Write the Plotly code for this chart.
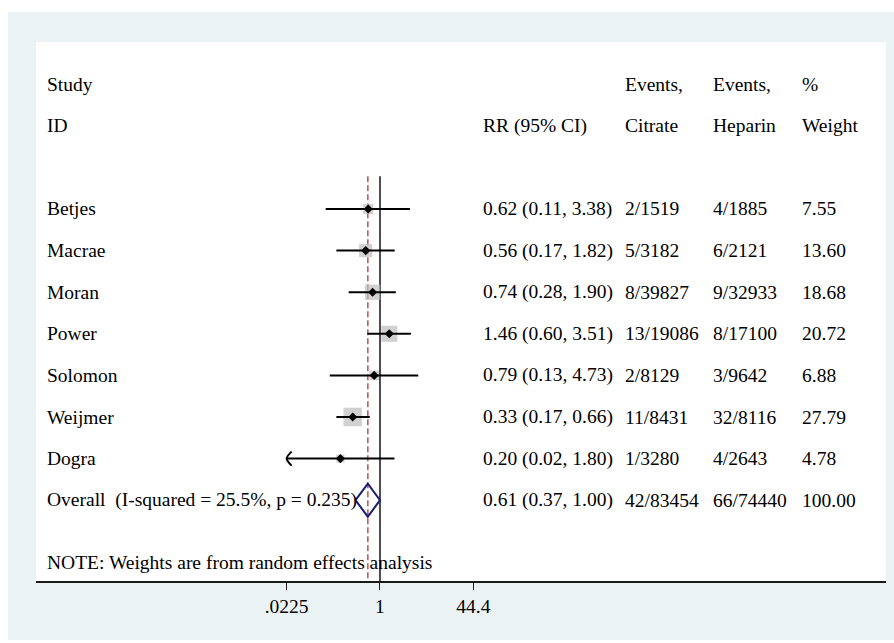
import math
import plotly.graph_objects as go

# ---------------- data ----------------
studies = ["Betjes", "Macrae", "Moran", "Power", "Solomon", "Weijmer", "Dogra"]
rr = [0.62, 0.56, 0.74, 1.46, 0.79, 0.33, 0.20]
ci_lo = [0.11, 0.17, 0.28, 0.60, 0.13, 0.17, 0.02]
ci_hi = [3.38, 1.82, 1.90, 3.51, 4.73, 0.66, 1.80]
events_citrate = ["2/1519", "5/3182", "8/39827", "13/19086", "2/8129", "11/8431", "1/3280"]
events_heparin = ["4/1885", "6/2121", "9/32933", "8/17100", "3/9642", "32/8116", "4/2643"]
weights = [7.55, 13.60, 18.68, 20.72, 6.88, 27.79, 4.78]

overall_rr = 0.61
overall_lo = 0.37
overall_hi = 1.00
overall_citrate = "42/83454"
overall_heparin = "66/74440"
overall_weight = 100.00
i_squared = 25.5
p_het = 0.235

tick_vals = [0.0225, 1, 44.4]
tick_text = [".0225", "1", "44.4"]

# ---------------- layout constants ----------------
W, H = 894, 643
ML, MR, MT, MB = 36, 8, 42, 62
PW, PH = W - ML - MR, H - MT - MB
FONT = "Liberation Serif, Times New Roman, serif"
FS = 19.5
X_MIN = min(tick_vals)
X_RANGE = [-6.072, 8.932]
Y_RANGE = [8.942, -4.014]
PX_PER_DEC = 56.65
PX_PER_ROW = 41.6
PAD = 2  # annotation inner padding in px


def px_x(px):
    return (px - PAD - ML) / PW


fig = go.Figure()

rows = list(range(len(studies)))
ov_row = len(studies)

# reference lines
line_top = -0.79
fig.add_trace(go.Scatter(x=[overall_rr, overall_rr], y=[line_top, Y_RANGE[0]], mode="lines",
                         line=dict(color="#c0605f", width=1.6, dash="6px,3px"),
                         hoverinfo="skip", showlegend=False))
fig.add_trace(go.Scatter(x=[1, 1], y=[line_top, Y_RANGE[0]], mode="lines",
                         line=dict(color="#222222", width=1.6),
                         hoverinfo="skip", showlegend=False))

# weight squares
sizes = [3.36 * math.sqrt(w) + 0.8 for w in weights]
fig.add_trace(go.Scatter(x=rr, y=rows, mode="markers",
                         marker=dict(symbol="square", size=sizes, color="#bdbdbd", line=dict(width=0)),
                         hoverinfo="skip", showlegend=False))

# CI lines
cx, cy = [], []
for r, lo, hi in zip(rows, ci_lo, ci_hi):
    cx += [max(lo, X_MIN), hi, None]
    cy += [r, r, None]
fig.add_trace(go.Scatter(x=cx, y=cy, mode="lines", line=dict(color="black", width=2),
                         hoverinfo="skip", showlegend=False))

# arrows for clipped CIs
for r, lo in zip(rows, ci_lo):
    if lo < X_MIN:
        dx = 10 ** (5 / PX_PER_DEC)
        dy = 7 / PX_PER_ROW
        fig.add_trace(go.Scatter(x=[X_MIN * dx, X_MIN, X_MIN * dx], y=[r - dy, r, r + dy],
                                 mode="lines", line=dict(color="black", width=2, shape="spline"),
                                 hoverinfo="skip", showlegend=False))

# point estimates
fig.add_trace(go.Scatter(x=rr, y=rows, mode="markers",
                         marker=dict(symbol="diamond", size=7, color="black"),
                         hoverinfo="skip", showlegend=False))

# overall diamond
dh = 16.5 / PX_PER_ROW
fig.add_trace(go.Scatter(x=[overall_lo, overall_rr, overall_hi, overall_rr, overall_lo],
                         y=[ov_row, ov_row - dh, ov_row, ov_row + dh, ov_row],
                         mode="lines", line=dict(color="#1c1c78", width=2),
                         hoverinfo="skip", showlegend=False))

# ---------------- text ----------------
ann = []


def txt(xpx, y, s):
    ann.append(dict(x=px_x(xpx), xref="paper", y=y, yref="y", text=s, showarrow=False,
                    xanchor="left", yanchor="middle", font=dict(family=FONT, size=FS, color="black")))


txt(47, -3, "Study")
txt(47, -2, "ID")
txt(483, -2, "RR (95% CI)")
txt(625, -3, "Events,")
txt(625, -2, "Citrate")
txt(713, -3, "Events,")
txt(713, -2, "Heparin")
txt(802, -3, "%")
txt(802, -2, "Weight")

for r, s, v, lo, hi, ec, eh, w in zip(rows, studies, rr, ci_lo, ci_hi, events_citrate, events_heparin, weights):
    txt(47, r, s)
    txt(483, r, f"{v:.2f} ({lo:.2f}, {hi:.2f})")
    txt(625, r, ec)
    txt(713, r, eh)
    txt(802, r, f"{w:.2f}")

txt(47, ov_row, f"Overall  (I-squared = {i_squared:.1f}%, p = {p_het:.3f})")
txt(483, ov_row, f"{overall_rr:.2f} ({overall_lo:.2f}, {overall_hi:.2f})")
txt(625, ov_row, overall_citrate)
txt(713, ov_row, overall_heparin)
txt(802, ov_row, f"{overall_weight:.2f}")
txt(47, 8.49, "NOTE: Weights are from random effects analysis")

shapes = [
    dict(type="rect", xref="paper", yref="paper",
         x0=(8 - ML) / PW, x1=(W - ML) / PW,
         y0=-(640 - (H - MB)) / PH, y1=((H - MB) - 12) / PH,
         fillcolor="#eaf2f3", line=dict(width=0), layer="below"),
    dict(type="rect", xref="paper", yref="paper", x0=0, x1=1, y0=0, y1=1,
         fillcolor="white", line=dict(width=0), layer="below"),
]

fig.update_layout(
    width=W, height=H,
    margin=dict(l=ML, r=MR, t=MT, b=MB, pad=0),
    paper_bgcolor="white", plot_bgcolor="white",
    annotations=ann, shapes=shapes,
    xaxis=dict(type="log", range=X_RANGE, tickvals=tick_vals, ticktext=tick_text,
               showgrid=False, zeroline=False, showline=True, linecolor="#1a1a1a", linewidth=2,
               ticks="outside", ticklen=7, tickwidth=1, tickcolor="#1a1a1a",
               tickfont=dict(family=FONT, size=FS, color="black")),
    yaxis=dict(range=Y_RANGE, visible=False, showgrid=False, zeroline=False),
)

fig.write_html("out.html")
